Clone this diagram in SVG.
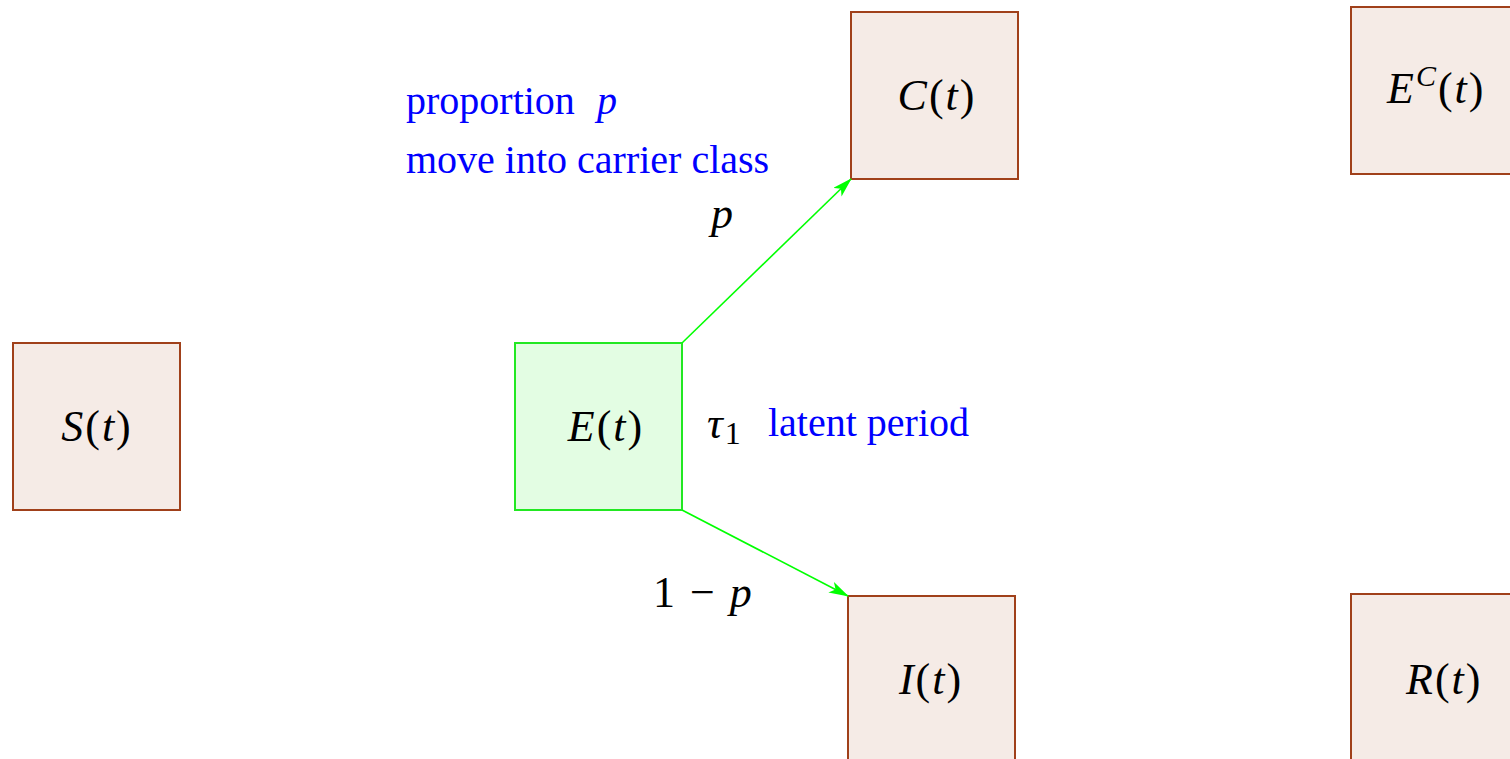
<svg xmlns="http://www.w3.org/2000/svg" width="1510" height="759" viewBox="0 0 1510 759">
<style>
.box{fill:#f5ebe6;stroke:#a0401a;stroke-width:2}
.ebox{fill:#e3fde3;stroke:#22e822;stroke-width:2}
.m{font-family:"Liberation Serif",serif;font-size:44px;fill:#000;letter-spacing:2px}
.i{font-style:italic}
.b{font-family:"Liberation Serif",serif;font-size:40px;fill:#0000ff}
.edge{stroke:#00ff00;stroke-width:1.6;fill:none;marker-end:url(#ah)}
</style>
<defs>
<marker id="ah" markerWidth="20" markerHeight="12" refX="19" refY="6" orient="auto" markerUnits="userSpaceOnUse">
<path d="M0,0 L20,6 L0,12 L5,6 Z" fill="#00ff00"/>
</marker>
</defs>
<g id="S"><rect class="box" x="13" y="343" width="167" height="167"/><text class="m" x="97" y="441" text-anchor="middle"><tspan class="i">S</tspan>(<tspan class="i">t</tspan>)</text></g>
<g id="E"><rect class="ebox" x="515" y="343" width="167" height="167"/><text class="m" x="606" y="441" text-anchor="middle"><tspan class="i">E</tspan>(<tspan class="i">t</tspan>)</text></g>
<g id="C"><rect class="box" x="851" y="12" width="167" height="167"/><text class="m" x="937" y="110" text-anchor="middle"><tspan class="i">C</tspan>(<tspan class="i">t</tspan>)</text></g>
<g id="EC"><rect class="box" x="1351" y="7" width="170" height="167"/><text class="m" x="1387" y="103"><tspan class="i">E</tspan><tspan class="i" font-size="30" dy="-17">C</tspan><tspan dy="17">(</tspan><tspan class="i">t</tspan>)</text></g>
<g id="I"><rect class="box" x="848" y="596" width="167" height="175"/><text class="m" x="931" y="694" text-anchor="middle"><tspan class="i">I</tspan>(<tspan class="i">t</tspan>)</text></g>
<g id="R"><rect class="box" x="1351" y="594" width="170" height="175"/><text class="m" x="1406" y="694"><tspan class="i">R</tspan>(<tspan class="i">t</tspan>)</text></g>
<g id="connectors">
<line class="edge" x1="682" y1="343" x2="851" y2="179"/>
<line class="edge" x1="682" y1="510" x2="848" y2="596"/>
</g>
<g id="labels">
<text class="b" x="406" y="114">proportion <tspan class="i" dx="12">p</tspan></text>
<text class="b" x="406" y="173">move into carrier class</text>
<text class="m i" x="711" y="228">p</text>
<text class="m" x="707" y="438"><tspan class="i">τ</tspan><tspan font-size="32" dy="6">1</tspan></text>
<text class="b" x="768" y="436">latent period</text>
<text class="m" x="653" y="607">1 − <tspan class="i">p</tspan></text>
</g>
</svg>
